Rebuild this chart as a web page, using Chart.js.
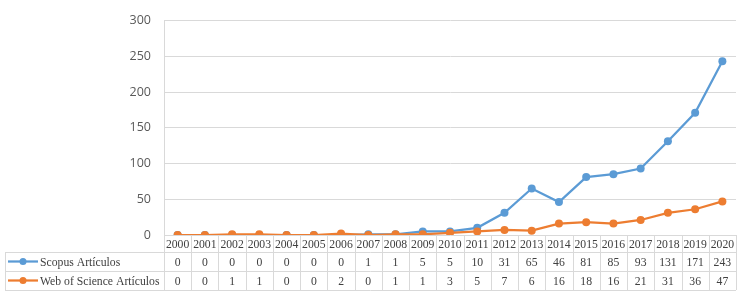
<!DOCTYPE html>
<html>
<head>
<meta charset="utf-8">
<script src="https://cdn.jsdelivr.net/npm/chart.js@4"></script>
<style>
  body { margin: 0; background: #ffffff; }
  #chart { display: block; }
</style>
</head>
<body>
<canvas id="chart" width="747" height="297"></canvas>
<script>
const years = ['2000', '2001', '2002', '2003', '2004', '2005', '2006', '2007', '2008', '2009', '2010',
  '2011', '2012', '2013', '2014', '2015', '2016', '2017', '2018', '2019', '2020'];
const scopusArticles = [0, 0, 0, 0, 0, 0, 0, 1, 1, 5, 5, 10, 31, 65, 46, 81, 85, 93, 131, 171, 243];
const wosArticles = [0, 0, 1, 1, 0, 0, 2, 0, 1, 1, 3, 5, 7, 6, 16, 18, 16, 21, 31, 36, 47];
const seriesNames = ['Scopus Artículos', 'Web of Science Artículos'];
const yMax = 300;
const yStep = 50;

const BLUE = '#5b9bd5';
const ORANGE = '#ed7d31';
const GRID = '#d9d9d9';
const TABLE_FONT = '11.7px "Liberation Serif", "DejaVu Serif", serif';

// draws the data table (years row + one row per series) under the plot
const dataTable = {
  id: 'dataTable',
  afterDraw(chart) {
    const ctx = chart.ctx;
    const x = chart.scales.x;
    const area = chart.chartArea;
    const colW = (area.right - area.left) / years.length;
    const top = area.bottom;
    const rowYears = top + 17;
    const rowA = rowYears + 19;
    const rowB = rowA + 19;
    const tableLeft = 5;

    ctx.save();
    ctx.strokeStyle = GRID;
    ctx.lineWidth = 1;
    ctx.beginPath();
    [rowYears, rowA, rowB].forEach((y) => {
      ctx.moveTo(tableLeft, Math.round(y) + 0.5);
      ctx.lineTo(area.right, Math.round(y) + 0.5);
    });
    for (let i = 0; i <= years.length; i++) {
      const bx = Math.round(area.left + i * colW) + 0.5;
      ctx.moveTo(bx, top);
      ctx.lineTo(bx, rowB);
    }
    ctx.moveTo(tableLeft + 0.5, rowYears);
    ctx.lineTo(tableLeft + 0.5, rowB);
    ctx.stroke();

    ctx.font = TABLE_FONT;
    ctx.fillStyle = '#404040';
    ctx.textAlign = 'center';
    ctx.textBaseline = 'middle';
    years.forEach((label, i) => {
      const cx = x.getPixelForValue(i);
      ctx.fillText(label, cx, (top + rowYears) / 2 + 1);
      ctx.fillText(String(scopusArticles[i]), cx, (rowYears + rowA) / 2 + 1);
      ctx.fillText(String(wosArticles[i]), cx, (rowA + rowB) / 2 + 1);
    });

    // legend keys in the first column
    [[BLUE, (rowYears + rowA) / 2], [ORANGE, (rowA + rowB) / 2]].forEach(([color, cy], k) => {
      ctx.strokeStyle = color;
      ctx.lineWidth = 2.25;
      ctx.beginPath();
      ctx.moveTo(8, cy);
      ctx.lineTo(38, cy);
      ctx.stroke();
      ctx.fillStyle = color;
      ctx.beginPath();
      ctx.arc(23, cy, 3.5, 0, Math.PI * 2);
      ctx.fill();
      ctx.fillStyle = '#404040';
      ctx.textAlign = 'left';
      ctx.fillText(seriesNames[k], 40, cy + 1);
    });
    ctx.restore();
  },
};

new Chart(document.getElementById('chart').getContext('2d'), {
  type: 'line',
  data: {
    labels: years,
    datasets: [
      {
        label: seriesNames[0],
        data: scopusArticles,
        borderColor: BLUE,
        backgroundColor: BLUE,
        borderWidth: 2.25,
        pointRadius: 4,
        pointBorderWidth: 0,
        tension: 0,
        order: 1,
      },
      {
        label: seriesNames[1],
        data: wosArticles,
        borderColor: ORANGE,
        backgroundColor: ORANGE,
        borderWidth: 2.25,
        pointRadius: 4,
        pointBorderWidth: 0,
        tension: 0,
        order: 0,
      },
    ],
  },
  options: {
    responsive: false,
    animation: false,
    layout: { padding: { top: 17, right: 11, bottom: 62, left: 0 } },
    plugins: {
      legend: { display: false },
      tooltip: { enabled: false },
    },
    scales: {
      x: {
        display: false,
        offset: true,
      },
      y: {
        min: 0,
        max: yMax,
        ticks: {
          stepSize: yStep,
          padding: 13,
          color: '#595959',
          font: { family: '"Open Sans", "Noto Sans", sans-serif', size: 12.5 },
        },
        grid: { color: GRID, drawTicks: false },
        border: { color: GRID },
        afterFit(scale) {
          scale.width = 164;
        },
      },
    },
  },
  plugins: [dataTable],
});
</script>
</body>
</html>
